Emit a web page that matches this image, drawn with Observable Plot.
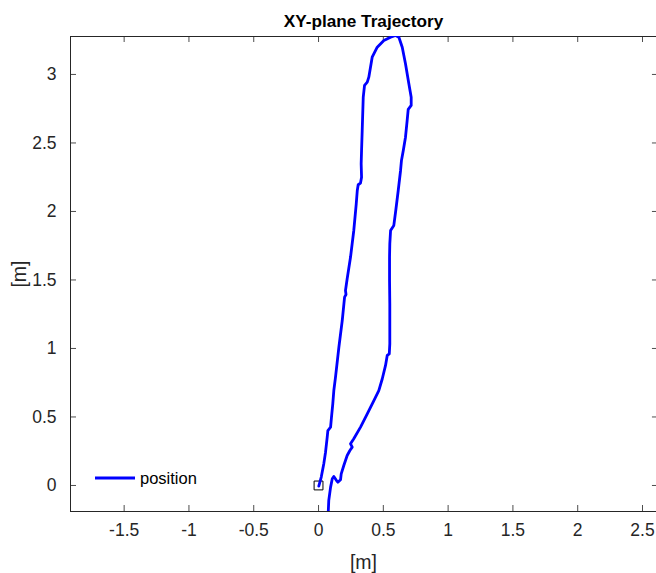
<!DOCTYPE html>
<html>
<head>
<meta charset="utf-8">
<script src="https://cdn.jsdelivr.net/npm/d3@7"></script>
<script src="https://cdn.jsdelivr.net/npm/@observablehq/plot@0.6"></script>
<style>
  html, body { margin: 0; padding: 0; background: #fff; overflow: hidden; }
  #wrap { position: relative; width: 656px; height: 573px; font-family: "Liberation Sans", Arial, sans-serif; }
  #legend { position: absolute; left: 95px; top: 468px; display: flex; align-items: center; font-size: 16.5px; color: #000; }
  #legend svg { display: block; margin-right: 5px; }
</style>
</head>
<body>
<div id="wrap"></div>
<script>
// Trajectory (x, y in metres)
const posX = [0.002, 0.021, 0.041, 0.054, 0.067, 0.072, 0.093, 0.100, 0.110, 0.118,
  0.131, 0.157, 0.183, 0.201, 0.212, 0.208, 0.221, 0.247, 0.272, 0.291,
  0.299, 0.306, 0.324, 0.332, 0.329, 0.332, 0.337, 0.345, 0.355, 0.376,
  0.388, 0.401, 0.414, 0.453, 0.504, 0.556, 0.594, 0.620, 0.646, 0.671,
  0.697, 0.715, 0.715, 0.692, 0.684, 0.671, 0.654, 0.640, 0.633, 0.615,
  0.596, 0.581, 0.556, 0.550, 0.548, 0.548, 0.550, 0.550, 0.546, 0.530,
  0.517, 0.492, 0.465, 0.427, 0.376, 0.324, 0.272, 0.247, 0.260, 0.242,
  0.221, 0.195, 0.175, 0.170, 0.149, 0.139, 0.118, 0.106, 0.093, 0.079,
  0.075, 0.073];
const posY = [-0.005, 0.061, 0.161, 0.243, 0.353, 0.401, 0.426, 0.499, 0.596, 0.693,
  0.791, 1.009, 1.204, 1.375, 1.394, 1.423, 1.509, 1.667, 1.861, 2.056,
  2.153, 2.195, 2.207, 2.250, 2.348, 2.445, 2.591, 2.834, 2.920, 2.944,
  2.980, 3.053, 3.126, 3.199, 3.248, 3.272, 3.285, 3.272, 3.199, 3.078,
  2.932, 2.834, 2.774, 2.745, 2.664, 2.542, 2.445, 2.372, 2.299, 2.153,
  2.007, 1.898, 1.861, 1.764, 1.667, 1.496, 1.326, 1.034, 0.961, 0.949,
  0.876, 0.779, 0.693, 0.620, 0.523, 0.426, 0.341, 0.304, 0.280, 0.255,
  0.219, 0.146, 0.085, 0.042, 0.024, 0.036, 0.066, 0.049, -0.012, -0.109,
  -0.195, -0.219];
const startPoint = [{x: 0, y: 0}];
const xTicks = [-1.5, -1, -0.5, 0, 0.5, 1, 1.5, 2, 2.5];
const yTicks = [0, 0.5, 1, 1.5, 2, 2.5, 3];
const xDomain = [-1.914, 2.608];
const yDomain = [-0.19, 3.277];
const xFrameRight = 2.623;
const titleText = "XY-plane Trajectory";
const xLabelText = "[m]";
const yLabelText = "[m]";
const legendLabel = "position";

const traj = posX.map((x, i) => ({x, y: posY[i]}));

const W = 656, H = 573;
const mL = 70, mR = 0, mT = 36, mB = 62;
const pxPerX = (W - mL - mR) / (xDomain[1] - xDomain[0]);
const pxPerY = (H - mT - mB) / (yDomain[1] - yDomain[0]);
const tickLenX = 6 / pxPerX, tickLenY = 6 / pxPerY;
const axisColor = "#262626";
const tickColor = "#4d4d4d";

const chart = Plot.plot({
  width: W, height: H,
  marginLeft: mL, marginRight: mR, marginTop: mT, marginBottom: mB,
  style: {fontFamily: "'Liberation Sans', Arial, sans-serif", background: "#fff", color: axisColor},
  x: {domain: xDomain},
  y: {domain: yDomain},
  marks: [
    Plot.axisX({ticks: xTicks, tickSize: 0, tickPadding: 12, tickFormat: d => String(d), fontSize: 17.5, label: null, fill: axisColor}),
    Plot.axisY({ticks: yTicks, tickSize: 0, tickPadding: 14, tickFormat: d => String(d), fontSize: 17.5, label: null, fill: axisColor}),
    // inward ticks on all four sides
    Plot.ruleX(xTicks, {y1: yDomain[0], y2: yDomain[0] + tickLenY, stroke: tickColor}),
    Plot.ruleX(xTicks, {y1: yDomain[1], y2: yDomain[1] - tickLenY, stroke: tickColor}),
    Plot.ruleY(yTicks, {x1: xDomain[0], x2: xDomain[0] + tickLenX, stroke: tickColor}),
    Plot.ruleY(yTicks, {x1: xFrameRight, x2: xFrameRight - tickLenX, stroke: tickColor}),
    // box (right side lies just outside the window)
    Plot.ruleX([xDomain[0]], {stroke: axisColor}),
    Plot.ruleY([yDomain[0], yDomain[1]], {stroke: axisColor}),
    Plot.dot(startPoint, {x: "x", y: "y", symbol: "square", r: 5, stroke: "#000", fill: "none", strokeWidth: 1}),
    Plot.line(traj, {x: "x", y: "y", stroke: "#0000ff", strokeWidth: 2.8, clip: true, curve: "linear"}),
    Plot.text([titleText], {frameAnchor: "top", lineAnchor: "middle", dy: -15, fontWeight: "bold", fontSize: 17.2, fill: "#000"}),
    Plot.text([xLabelText], {frameAnchor: "bottom", lineAnchor: "middle", dy: 51, fontSize: 19.5, fill: axisColor}),
    Plot.text([yLabelText], {frameAnchor: "left", lineAnchor: "middle", textAnchor: "middle", dx: -51, rotate: -90, fontSize: 19.5, fill: axisColor})
  ]
});

const wrap = document.getElementById("wrap");
wrap.appendChild(chart);
const legend = document.createElement("div");
legend.id = "legend";
legend.innerHTML = `<svg width="40" height="20"><line x1="0" x2="40" y1="10" y2="10" stroke="#0000ff" stroke-width="2.8"/></svg><span>${legendLabel}</span>`;
wrap.appendChild(legend);
</script>
</body>
</html>
